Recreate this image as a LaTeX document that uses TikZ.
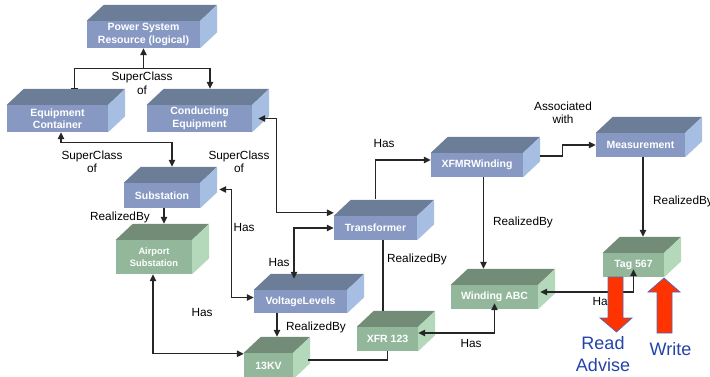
\documentclass[tikz,border=0pt]{standalone}
\usepackage{fontspec}
\setmainfont{Liberation Sans}
\usetikzlibrary{arrows.meta}

\definecolor{bluefront}{HTML}{8799C3}
\definecolor{bluetop}{HTML}{6C7D98}
\definecolor{blueside}{HTML}{A5BEE2}
\definecolor{greenfront}{HTML}{93B79B}
\definecolor{greentop}{HTML}{738C77}
\definecolor{greenside}{HTML}{B4D8BA}
\definecolor{arrowred}{HTML}{FF3300}
\definecolor{noteblue}{HTML}{2343A8}

% depth of the 3-D boxes
\def\dpx{17}
\def\dpy{16}

% \cubebox[options]{name}{x}{y}{width}{height}{palette}{text}
\newcommand\cubebox[8][]{%
  \node[boxface, #1, fill=#7front, minimum width=#5pt, minimum height=#6pt] (#2) at (#3,#4) {#8};
  \fill[#7top] (#2.north west) -- ([shift={(\dpx,-\dpy)}]#2.north west)
     -- ([shift={(\dpx,-\dpy)}]#2.north east) -- (#2.north east) -- cycle;
  \fill[#7side] (#2.north east) -- ([shift={(\dpx,-\dpy)}]#2.north east)
     -- ([shift={(\dpx,-\dpy)}]#2.south east) -- (#2.south east) -- cycle;
  \coordinate (#2-top) at ([shift={(\dpx,-\dpy)}]#2.north);
}

\tikzset{
  boxface/.style={inner sep=0pt, text=white, align=center,
    font=\fontsize{10.5}{12.5}\selectfont\bfseries},
  lbl/.style={inner sep=0pt, align=center, font=\fontsize{11.8}{13.5}\selectfont},
  conn/.style={line width=1.1pt, draw=black!85},
  tip/.tip={Triangle[length=7pt,width=6.5pt]},
  arr/.style={conn, -tip},
  both/.style={conn, tip-tip},
  bigarrow/.style={fill=arrowred, draw=noteblue!80, line width=0.7pt, line join=miter},
  note/.style={inner sep=0pt, align=center, text=noteblue,
    font=\fontsize{18}{21.5}\selectfont},
}

\begin{document}
\begin{tikzpicture}[x=1pt, y=-1pt]
\useasboundingbox (0,0) rectangle (710,377);

% ---------- classes and instances ----------
\cubebox{psr}{143.5}{34.5}{113}{27}{blue}{Power System\\Resource (logical)}
\cubebox{ec}{57.5}{118.5}{101}{27}{blue}{Equipment\\Container}
\cubebox{ce}{199.5}{118.5}{105}{27}{blue}{Conducting\\Equipment}
\cubebox{sub}{162}{195.5}{76}{25}{blue}{Substation}
\cubebox[font=\fontsize{9.3}{11.5}\selectfont\bfseries]{air}{154}{257}{76}{34}{green}{Airport\\Substation}
\cubebox{tr}{375.5}{228}{83}{24}{blue}{Transformer}
\cubebox{xw}{477}{165}{92}{24}{blue}{XFMRWinding}
\cubebox{meas}{640.5}{145}{89}{24}{blue}{Measurement}
\cubebox{vl}{300.5}{301.5}{93}{23}{blue}{VoltageLevels}
\cubebox{kv}{268.5}{366}{49}{26}{green}{13KV}
\cubebox{xfr}{387.5}{339}{61}{24}{green}{XFR 123}
\cubebox{wabc}{494.5}{297}{87}{24}{green}{Winding ABC}
\cubebox{tag}{633.5}{265}{61}{24}{green}{Tag 567}

% ---------- relations ----------
% superclass tree
\coordinate (j1) at ([yshift=-20pt]psr.south);
\draw[arr] (j1) -- (psr.south);
\draw[conn, -{Bar[width=7pt]}] (j1) -| (ec-top);
\draw[arr] (j1) -| ([xshift=-6.5pt]ce-top);
\node[lbl] (l-sc1) at (142,83.5) {SuperClass\\of};

\draw[both] ([xshift=3.5pt]ec.south) -- ++(0,10) -| ([xshift=-7pt]sub-top);
\node[lbl] (l-sc2) at (92,162) {SuperClass\\of};

\draw[both] ([xshift=6pt]ce.east) -- ++(18,0) |- ([yshift=3pt]tr.north west);
\node[lbl] (l-sc3) at (239,162) {SuperClass\\of};

% containment
\draw[both] ([shift={(19pt,6pt)}]sub.east) -- ++(12,0) |- ([yshift=4pt]vl.west);
\node[lbl] (l-has1) at (244,227) {Has};

\draw[both] (tr.west) -| ([shift={(-6.5pt,11pt)}]vl.north);
\node[lbl] (l-has2) at (279,262) {Has};

\draw[arr] ([yshift=17pt]tr.north) |- ([yshift=5pt]xw.west);
\node[lbl] (l-has3) at (384,143) {Has};

\draw[both] ([xshift=-1pt]air.south) |- ([yshift=-1pt]kv.north west);
\node[lbl] (l-has4) at (202,312) {Has};

\draw[both] ([yshift=6pt]xfr.east) -| ([yshift=6pt]wabc.south);
\node[lbl] (l-has5) at (471,343) {Has};

\draw[both] ([yshift=8pt]tag.south) |- ([shift={(2pt,5pt)}]wabc.east);
\node[lbl] (l-has6) at (603,301) {Has};

\draw[conn] ([shift={(15pt,6pt)}]kv.east) -| (xfr.south);

% association
\draw[arr] ([shift={(17pt,9pt)}]xw.east) -- ++(22,0) |- (meas.west);
\node[lbl] (l-assoc) at (563,113) {Associated\\with};

% realizations
\draw[arr] ([xshift=2pt]sub.south) -- ([xshift=2pt]sub.south |- air-top);
\node[lbl] (l-rb1) at (120,217) {RealizedBy};

\draw[arr] ([xshift=-23.5pt]vl.south) -- ([xshift=-23.5pt]vl.south |- kv-top);
\node[lbl] (l-rb2) at (316,327) {RealizedBy};

\draw[conn] ([xshift=7.5pt]tr.south) -- ([xshift=7.5pt]tr.south |- xfr-top);
\node[lbl] (l-rb3) at (417,259) {RealizedBy};

\draw[arr] ([xshift=6.5pt]xw.south) -- ([xshift=6.5pt]xw.south |- wabc-top);
\node[lbl] (l-rb4) at (523,222) {RealizedBy};

\draw[arr] ([xshift=2.5pt]meas.south) -- ([xshift=2.5pt]meas.south |- tag-top);
\node[lbl, anchor=west] (l-rb5) at (653,201) {RealizedBy};

% ---------- read / write ----------
\filldraw[bigarrow] (608,277) -- (623,277) -- (623,318) -- (632,318) -- (616.5,332)
  -- (600,318) -- (608,318) -- cycle;
\filldraw[bigarrow] (657,333) -- (672,333) -- (672,292) -- (680,292) -- (664,278)
  -- (648,292) -- (657,292) -- cycle;
\node[note] (read) at (603,354) {Read\\Advise};
\node[note] (write) at (670.5,349) {Write};
\end{tikzpicture}
\end{document}
